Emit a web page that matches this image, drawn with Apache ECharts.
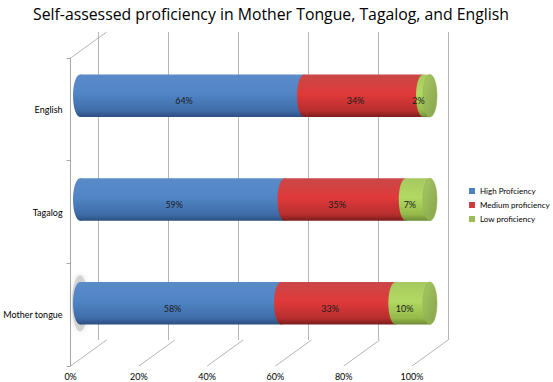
<!DOCTYPE html>
<html>
<head>
<meta charset="utf-8">
<script src="https://cdn.jsdelivr.net/npm/echarts@6/dist/echarts.min.js"></script>
<style>html,body{margin:0;padding:0;background:#fff}#chart{width:553px;height:382px}</style>
</head>
<body>
<div id="chart"></div>
<script>
// categories, bottom to top
var languages = ['Mother tongue', 'Tagalog', 'English'];
var highPct = [58, 59, 64];
var mediumPct = [33, 35, 34];
var lowPct = [10, 7, 2];
var seriesNames = ['High Profciency', 'Medium proficiency', 'Low proficiency'];
var xTicks = [0, 20, 40, 60, 80, 100];

var chart = echarts.init(document.getElementById('chart'), null, {renderer: 'svg'});

// colours per segment: base (legend), cylinder gradient
var baseColors = ['#4f81bd', '#d23b3b', '#9bbb59'];
var gradStops = [
  [['#5a8bc9', 0], ['#5085c5', 0.45], ['#3f6ca8', 0.85], ['#2b4f80', 1]],
  [['#c94848', 0], ['#e03a3a', 0.45], ['#b82e2e', 0.85], ['#7c1c1c', 1]],
  [['#a6c960', 0], ['#b2d962', 0.45], ['#95ba4b', 0.85], ['#6c8a34', 1]]
];
function grad(k) {
  return new echarts.graphic.LinearGradient(0, 0, 0, 1, gradStops[k].map(function (s) {
    return {offset: s[1], color: s[0]};
  }));
}

//每段的起止位置（按总数换算成百分比）
function segments(k) {
  var out = [];
  for (var i = 0; i < languages.length; i++) {
    var vals = [highPct[i], mediumPct[i], lowPct[i]];
    var total = vals[0] + vals[1] + vals[2];
    var start = 0;
    for (var j = 0; j < k; j++) start += vals[j];
    out.push([i, start / total * 100, (start + vals[k]) / total * 100, vals[k]]);
  }
  return out;
}

function makeRender(k) {
  return function (params, api) {
    var cat = api.value(0);
    var p0 = api.coord([api.value(1), cat]);
    var p1 = api.coord([api.value(2), cat]);
    var h = api.size([0, 1])[1] * 0.41;
    var rx = 7;
    var children = [];
    if (k === 0 && cat === 0) {
      //选中时的阴影
      children.push({type: 'ellipse', shape: {cx: p0[0], cy: p0[1], rx: 8, ry: h / 2 + 7},
        style: {fill: 'rgba(150,150,150,0.35)', shadowBlur: 6, shadowColor: 'rgba(0,0,0,0.3)'}});
    }
    children.push({type: 'ellipse', shape: {cx: p0[0], cy: p0[1], rx: rx, ry: h / 2}, style: {fill: grad(k)}});
    children.push({type: 'rect', shape: {x: p0[0], y: p0[1] - h / 2, width: p1[0] - p0[0], height: h}, style: {fill: grad(k)}});
    if (k === 2) {
      children.push({type: 'ellipse', shape: {cx: p1[0], cy: p1[1], rx: rx, ry: h / 2},
        style: {fill: new echarts.graphic.LinearGradient(0, 0, 1, 1, [
          {offset: 0, color: '#a8c863'}, {offset: 1, color: '#86a34a'}]),
          stroke: '#93b152', lineWidth: 0.6}});
    }
    children.push({type: 'text', x: (p0[0] + p1[0]) / 2 - 8, y: p0[1] + 5,
      style: {text: api.value(3) + '%', fill: '#1a1a1a', font: '9px Lato', align: 'center', verticalAlign: 'middle'}});
    return {type: 'group', children: children};
  };
}

var option = {
  animation: false,
  title: {
    text: 'Self-assessed proficiency in Mother Tongue, Tagalog, and English',
    left: 28, top: 1,
    textStyle: {fontFamily: 'Open Sans', fontSize: 15.8, fontWeight: 'normal', color: '#000'}
  },
  legend: {
    data: seriesNames,
    orient: 'vertical', left: 464, top: 182,
    icon: 'rect', itemWidth: 6, itemHeight: 6, itemGap: 6,
    textStyle: {fontFamily: 'Lato', fontSize: 8, color: '#000'}
  },
  grid: [
    {left: 62, right: 141, top: 58, bottom: 16},   // 前面
    {left: 98, right: 105, top: 32, bottom: 42},   // 后墙
    {left: 80, right: 123, top: 44, bottom: 27}    // 圆柱
  ],
  xAxis: [
    {gridIndex: 0, type: 'value', min: 0, max: 100, interval: 20,
      axisLine: {show: false}, axisTick: {show: false}, splitLine: {show: false},
      axisLabel: {formatter: '{value}%', fontFamily: 'Lato', fontSize: 9, color: '#000', margin: 6}},
    {gridIndex: 1, type: 'value', min: 0, max: 100, interval: 20,
      axisLine: {show: false}, axisTick: {show: false}, axisLabel: {show: false},
      splitLine: {show: true, lineStyle: {color: '#b5b5b5', width: 1}}},
    {gridIndex: 2, type: 'value', min: 0, max: 100, show: false}
  ],
  yAxis: [
    {gridIndex: 0, type: 'category', data: languages,
      axisLine: {lineStyle: {color: '#a6a6a6'}},
      axisTick: {show: true, length: 4, lineStyle: {color: '#a6a6a6'}},
      axisLabel: {fontFamily: 'Lato', fontSize: 9, color: '#000', margin: 8}},
    {gridIndex: 1, type: 'category', data: languages, show: false},
    {gridIndex: 2, type: 'category', data: languages, show: false}
  ],
  series: [
    {
      type: 'custom', name: 'floor', xAxisIndex: 0, yAxisIndex: 0, silent: true,
      data: xTicks,
      renderItem: function (params, api) {
        var v = api.value(0);
        var x = api.coord([v, 0])[0];
        var cs = params.coordSys;
        var yb = cs.y + cs.height;
        var st = {stroke: '#b5b5b5', lineWidth: 1};
        var kids = [{type: 'line', shape: {x1: x, y1: yb, x2: x + 36, y2: yb - 26}, style: st}];
        if (v === 0) kids.push({type: 'line', shape: {x1: x, y1: cs.y, x2: x + 36, y2: cs.y - 26}, style: st});
        return {type: 'group', children: kids};
      }
    }
  ]
};

for (var k = 0; k < 3; k++) {
  option.series.push({
    type: 'custom', name: seriesNames[k], xAxisIndex: 2, yAxisIndex: 2,
    itemStyle: {color: baseColors[k]},
    data: segments(k),
    renderItem: makeRender(k)
  });
}

chart.setOption(option);
</script>
</body>
</html>
